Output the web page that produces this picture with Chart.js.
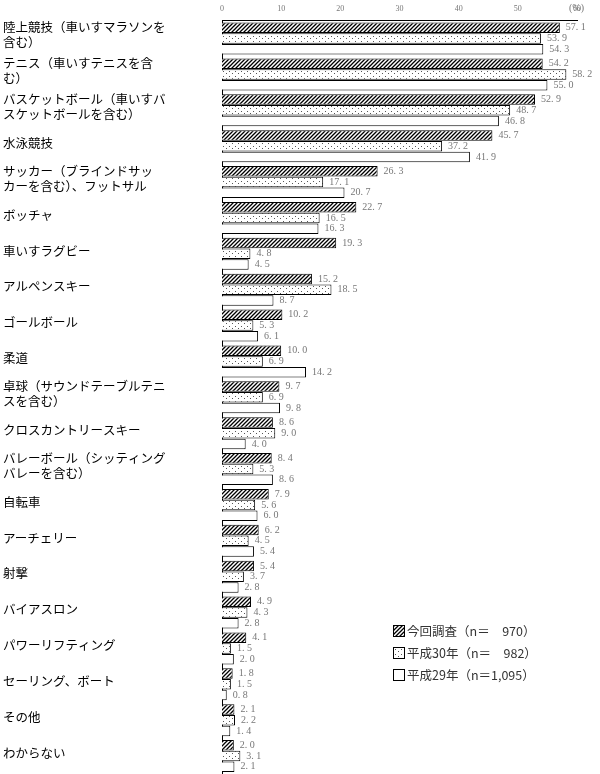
<!DOCTYPE html>
<html><head><meta charset="utf-8">
<script src="https://cdn.jsdelivr.net/npm/chart.js@4/dist/chart.umd.min.js"></script>
<style>
body{margin:0;background:#fff;}
#wrap{position:relative;width:600px;height:774px;}
#leg{position:absolute;left:393px;top:620px;font:12.5px "Noto Sans CJK JP";color:#333;line-height:22px;}
.sw{display:inline-block;width:10px;height:10px;border:1.5px solid #000;vertical-align:-1px;margin-right:2px;}
</style></head><body>
<div id="wrap"><canvas id="c" width="600" height="774"></canvas>
<div id="leg">
<div><span class="sw" id="s0"></span>今回調査（n＝　970）</div>
<div><span class="sw" id="s1"></span>平成30年（n＝　982）</div>
<div><span class="sw" id="s2" style="background:#fff"></span>平成29年（n＝1,095）</div>
</div></div>
<script>
const categories=[["陸上競技（車いすマラソンを","含む）"],["テニス（車いすテニスを含","む）"],["バスケットボール（車いすバ","スケットボールを含む）"],["水泳競技"],["サッカー（ブラインドサッ","カーを含む）、フットサル"],["ボッチャ"],["車いすラグビー"],["アルペンスキー"],["ゴールボール"],["柔道"],["卓球（サウンドテーブルテニ","スを含む）"],["クロスカントリースキー"],["バレーボール（シッティング","バレーを含む）"],["自転車"],["アーチェリー"],["射撃"],["バイアスロン"],["パワーリフティング"],["セーリング、ボート"],["その他"],["わからない"]];
const seriesNames=["今回調査（n＝　970）","平成30年（n＝　982）","平成29年（n＝1,095）"];
const current=[57.1,54.2,52.9,45.7,26.3,22.7,19.3,15.2,10.2,10.0,9.7,8.6,8.4,7.9,6.2,5.4,4.9,4.1,1.8,2.1,2.0];
const h30=[53.9,58.2,48.7,37.2,17.1,16.5,4.8,18.5,5.3,6.9,6.9,9.0,5.3,5.6,4.5,3.7,4.3,1.5,1.5,2.2,3.1];
const h29=[54.3,55.0,46.8,41.9,20.7,16.3,4.5,8.7,6.1,14.2,9.8,4.0,8.6,6.0,5.4,2.8,2.8,2.0,0.8,1.4,2.1];
const ticks=[0,10,20,30,40,50,60];

function hatch(){const p=document.createElement('canvas');p.width=4;p.height=4;const g=p.getContext('2d');g.fillStyle='#fff';g.fillRect(0,0,4,4);g.strokeStyle='#000';g.lineWidth=1.3;g.beginPath();g.moveTo(0,4);g.lineTo(4,0);g.moveTo(-1,1);g.lineTo(1,-1);g.moveTo(3,5);g.lineTo(5,3);g.stroke();return p;}
function dots(){const p=document.createElement('canvas');p.width=6;p.height=5;const g=p.getContext('2d');g.fillStyle='#fff';g.fillRect(0,0,6,5);g.fillStyle='#555';g.fillRect(1,1,1,1);g.fillRect(4,3,1,1);return p;}
const ctx0=document.getElementById('c').getContext('2d');
const hp=hatch(),dp=dots();
const pH=ctx0.createPattern(hp,'repeat'),pD=ctx0.createPattern(dp,'repeat');
document.getElementById('s0').style.background='url('+hp.toDataURL()+')';
document.getElementById('s1').style.background='url('+dp.toDataURL()+')';

const labelPlugin={id:'lbl',afterDraw(ch){
 const c=ch.ctx,y=ch.scales.y;
 c.save();c.fillStyle='#000';c.font='12.5px "Noto Sans CJK JP"';c.textBaseline='middle';c.textAlign='left';
 categories.forEach((l,i)=>{const cy=y.getPixelForValue(i);
  if(l.length===1)c.fillText(l[0],3,cy-3);else{c.fillText(l[0],3,cy-11);c.fillText(l[1],3,cy+4);}});
 c.font='10px "Liberation Serif"';c.fillStyle='#777';
 ch.data.datasets.forEach((ds,di)=>{ch.getDatasetMeta(di).data.forEach((b,i)=>{
  c.fillText(ds.data[i].toFixed(1).replace('.','. '),b.x+6,b.y);});});
 c.fillText('(%)',ch.chartArea.right-8,8);
 c.restore();}};

new Chart(ctx0,{type:'bar',
 data:{labels:categories.map(l=>l.join('')),datasets:[
  {label:seriesNames[0],data:current,backgroundColor:pH,borderColor:'#000',borderWidth:1},
  {label:seriesNames[1],data:h30,backgroundColor:pD,borderColor:'#000',borderWidth:1},
  {label:seriesNames[2],data:h29,backgroundColor:'#fff',borderColor:'#000',borderWidth:1}]},
 options:{indexAxis:'y',responsive:false,animation:false,
  layout:{padding:{left:222,right:23,top:0,bottom:0}},
  categoryPercentage:0.9,barPercentage:0.98,
  plugins:{legend:{display:false},tooltip:{enabled:false}},
  scales:{
   x:{position:'top',min:0,max:60,afterBuildTicks:a=>{a.ticks=ticks.map(v=>({value:v}));},
    grid:{display:false,drawTicks:true,tickLength:3,tickColor:'#000'},border:{color:'#000'},
    ticks:{color:'#777',font:{size:8,family:'Liberation Serif'},padding:4}},
   y:{ticks:{display:false},grid:{display:false,tickLength:0},border:{color:'#000'}}}},
 plugins:[labelPlugin]});
</script></body></html>
